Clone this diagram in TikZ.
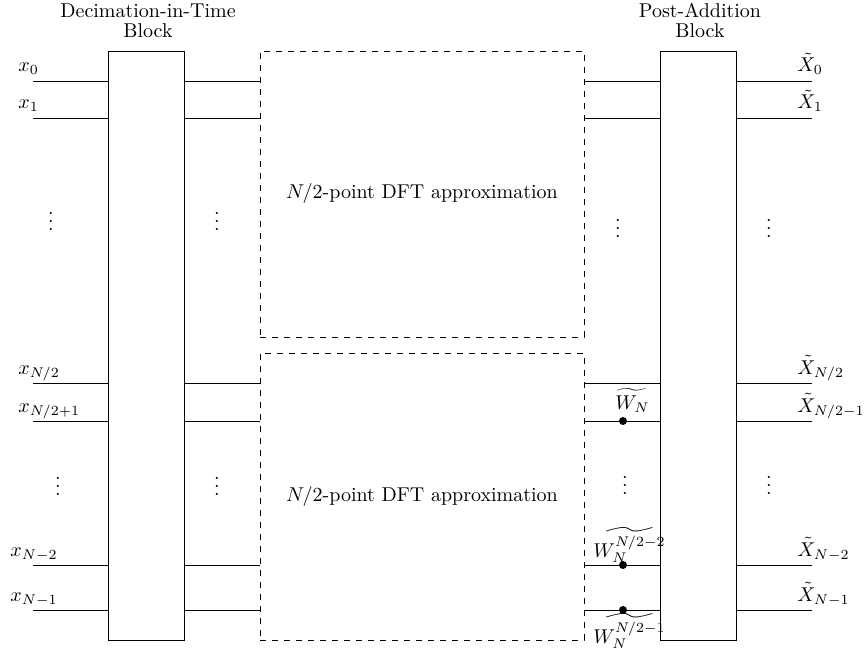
\documentclass[tikz,border=0pt]{standalone}
\usepackage{amsmath}
\usepackage{amssymb}
\usetikzlibrary{positioning,calc}

\begin{document}
\begin{tikzpicture}[x=0.5pt, y=-0.5pt,
        block/.style={rectangle, draw, minimum width=38pt, minimum height=294.5pt, inner sep=0pt},
        dftbox/.style={rectangle, draw, dashed, minimum width=162pt, minimum height=143pt, inner sep=0pt},
        title/.style={anchor=south, align=center, inner sep=0pt},
        lbl/.style={anchor=base west, inner sep=0pt},
        tap/.style={circle, fill, inner sep=0pt, minimum size=4pt}]

        \useasboundingbox (0,0) rectangle (867,663);

        % blocks
        \node[block] (dit) at (146,345.5) {};
        \node[block] (pab) at (698,345.5) {};
        \node[dftbox] (dftA) at (422,194) {$N/2$-point DFT approximation};
        \node[dftbox, minimum height=143.5pt] (dftB) at (422,496.5) {$N/2$-point DFT approximation};

        \node[title] (ditTitle) at (148,38) {Decimation-in-Time\\[-2pt]Block};
        \node[title] (pabTitle) at (700,38) {Post-Addition\\[-2pt]Block};

        % signal lines
        \foreach \y/\xin/\lx/\xout [count=\i] in {81/{x_0}/18/{\tilde{X}_0},
                118/{x_1}/18/{\tilde{X}_1},
                383/{x_{N/2}}/18/{\tilde{X}_{N/2}},
                421/{x_{N/2+1}}/18/{\tilde{X}_{N/2-1}},
                565/{x_{N-2}}/10/{\tilde{X}_{N-2}},
                610/{x_{N-1}}/10/{\tilde{X}_{N-1}}} {
            \coordinate (in\i) at (33,\y);
            \coordinate (out\i) at (812,\y);
            \draw (in\i) -- (in\i -| dit.west);
            \draw (in\i -| dit.east) -- (in\i -| dftA.west);
            \draw (in\i -| dftA.east) -- (in\i -| pab.west);
            \draw (in\i -| pab.east) -- (out\i);
            \node[lbl] (xin\i) at (\lx,\y-9) {$\xin$};
            \node[lbl] (xout\i) at (797,\y-9) {$\xout$};
        }

        % dots
        \node (vdA1) at (51,215) {$\vdots$};
        \node (vdA2) at (217,215) {$\vdots$};
        \node (vdA3) at (618,222) {$\vdots$};
        \node (vdA4) at (769,222) {$\vdots$};
        \node (vdB1) at (58,480) {$\vdots$};
        \node (vdB2) at (217,480) {$\vdots$};
        \node (vdB3) at (625,479) {$\vdots$};
        \node (vdB4) at (769,479) {$\vdots$};

        % twiddle factors
        \node[tap] (tw1) at (623,421) {};
        \node[tap] (tw2) at (623,565) {};
        \node[tap] (tw3) at (623,610) {};
        \node[lbl] (w1) at (615,409) {$\widetilde{W_N}$};
        \node[lbl] (w2) at (593,557) {$\widetilde{W_N^{N/2-2}}$};
        \node[lbl] (w3) at (593,643) {$\widetilde{W_N^{N/2-1}}$};

\end{tikzpicture}
\end{document}
